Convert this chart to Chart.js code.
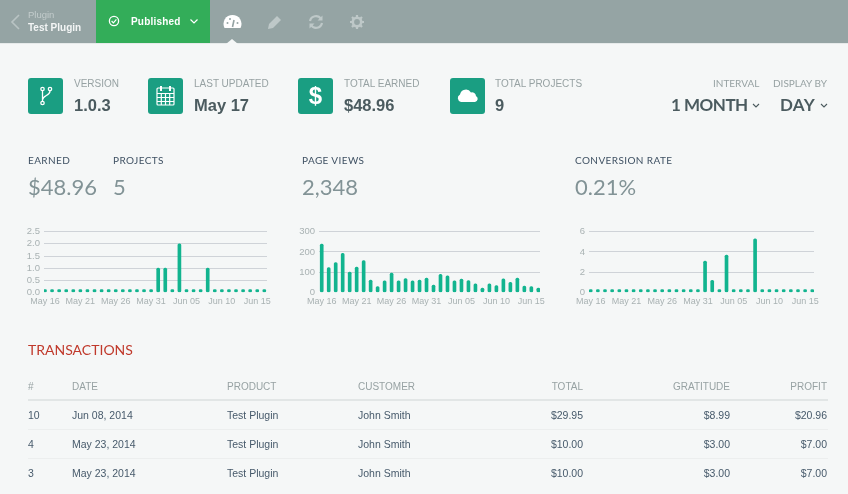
<!DOCTYPE html>
<html>
<head>
<meta charset="utf-8">
<title>Test Plugin</title>
<script src="https://cdn.jsdelivr.net/npm/chart.js@4"></script>
<style>
html, body { margin: 0; padding: 0; }
body { width: 848px; height: 494px; overflow: hidden; position: relative; background: #f5f7f7; font-family: "Liberation Sans", sans-serif; }
.abs { position: absolute; white-space: nowrap; line-height: 1; will-change: transform; }
.topbar { position: absolute; left: 0; top: 0; width: 848px; height: 44px; background: #95a4a4; border-bottom: 1px solid #e6eaea; box-sizing: border-box; }
.published { position: absolute; left: 96px; top: 0; width: 114px; height: 43px; background: #33ad59; }
.notch { position: absolute; left: 226px; top: 39px; width: 0; height: 0; border-left: 6px solid transparent; border-right: 6px solid transparent; border-bottom: 5px solid #f5f7f7; }
.tile { position: absolute; top: 78px; width: 35px; height: 36px; background: #1a9e82; border-radius: 3px; }
.tile svg { display: block; }
.lbl { font-size: 10px; color: #97a2a3; }
.val { font-size: 16.5px; font-weight: bold; color: #4b5b5f; }
.big { font-family: Lato, sans-serif; font-weight: bold; font-size: 17px; color: #4b5b5f; }
.head { font-family: Lato, sans-serif; font-size: 10px; letter-spacing: .4px; color: #3f5163; }
.num { font-family: Lato, sans-serif; font-weight: 400; font-size: 22px; color: #829396; }
canvas { position: absolute; }
table { position: absolute; left: 28px; top: 375px; width: 800px; border-collapse: collapse; table-layout: fixed; font-size: 10.5px; color: #475a6b; will-change: transform; }
th { font-weight: normal; font-size: 10px; color: #97a2a3; height: 23px; padding: 0 0 1px; text-align: left; border-bottom: 2px solid #e2e6e6; }
td { height: 28px; padding: 0; border-bottom: 1px solid #eceeee; }
tr:last-child td { border-bottom: 0; }
.r { text-align: right; }
th:last-child, td:last-child { padding-right: 1px; }
</style>
</head>
<body>
<div class="topbar"></div>
<div class="abs" style="left:28px;top:10px;font-size:9.5px;color:#c3cccc">Plugin</div>
<div class="abs" style="left:28px;top:23px;font-size:10px;font-weight:bold;color:#f3f5f5">Test Plugin</div>
<svg class="abs" style="left:9px;top:13px" width="12" height="18"><path d="M10 2 L3 9 L10 16" fill="none" stroke="#b9c4c4" stroke-width="1.6"/></svg>
<div class="published"></div>
<svg class="abs" style="left:108px;top:15px" width="12" height="12"><circle cx="6" cy="6" r="4.6" fill="none" stroke="#fff" stroke-width="1.3"/><path d="M3.6 6 L5.4 7.8 L8.4 4.4" fill="none" stroke="#fff" stroke-width="1.2"/></svg>
<div class="abs" style="left:131px;top:17px;font-size:10px;font-weight:bold;letter-spacing:.2px;color:#fff">Published</div>
<svg class="abs" style="left:189px;top:18px" width="10" height="7"><path d="M1.5 1.5 L5 5 L8.5 1.5" fill="none" stroke="#fff" stroke-width="1.2"/></svg>
<svg class="abs" style="left:223px;top:14px" width="19" height="16"><path d="M1.5 14 A9 9 0 1 1 17.5 14 Z" fill="#fff"/><path d="M9.5 13 L11 6" stroke="#95a4a4" stroke-width="1.6"/><circle cx="4.5" cy="9" r="1" fill="#95a4a4"/><circle cx="7" cy="5" r="1" fill="#95a4a4"/><circle cx="14.5" cy="9" r="1" fill="#95a4a4"/></svg>
<svg class="abs" style="left:267px;top:15px" width="15" height="15"><path d="M1 14 L2 9 L10 1 L14 5 L6 13 Z" fill="#bec8c8"/></svg>
<svg class="abs" style="left:308px;top:14px" width="16" height="16"><path d="M2 7 A6 6 0 0 1 13 5 M14 9 A6 6 0 0 1 3 11" fill="none" stroke="#bec8c8" stroke-width="2.2"/><path d="M14.5 1.5 V6.5 H9.5 Z M1.5 14.5 V9.5 H6.5 Z" fill="#bec8c8"/></svg>
<svg class="abs" style="left:350px;top:15px" width="14" height="14"><circle cx="7" cy="7" r="4.2" fill="none" stroke="#bec8c8" stroke-width="2.6"/><path d="M7 0 V14 M0 7 H14 M2 2 L12 12 M12 2 L2 12" stroke="#bec8c8" stroke-width="2.2" stroke-dasharray="2.4 9.2 2.4 0"/></svg>
<div class="notch"></div>

<div class="tile" style="left:28px"><svg width="35" height="36"><g fill="none" stroke="#fff" stroke-width="1.3"><circle cx="14.5" cy="11" r="1.7"/><circle cx="22" cy="11" r="1.7"/><circle cx="14.5" cy="25" r="1.7"/><path d="M14.5 13 V23 M22 13 C22 18 15 17 14.5 22"/></g></svg></div>
<div class="abs lbl" style="left:74px;top:79px">VERSION</div>
<div class="abs val" style="left:74px;top:97px">1.0.3</div>

<div class="tile" style="left:148px"><svg width="35" height="36"><g fill="none" stroke="#fff" stroke-width="1.2"><rect x="9" y="10" width="17" height="17" rx="1"/><path d="M9 15.5 H26 M9 19.5 H26 M9 23.5 H26 M13.3 15 V27 M17.5 15 V27 M21.7 15 V27"/></g><rect x="12" y="8" width="2" height="5" fill="#fff"/><rect x="21" y="8" width="2" height="5" fill="#fff"/></svg></div>
<div class="abs lbl" style="left:194px;top:79px">LAST UPDATED</div>
<div class="abs val" style="left:194px;top:97px">May 17</div>

<div class="tile" style="left:298px"><div class="abs" style="left:0;width:35px;text-align:center;top:6px;font-size:24px;font-weight:bold;color:#fff">$</div></div>
<div class="abs lbl" style="left:344px;top:79px">TOTAL EARNED</div>
<div class="abs val" style="left:344px;top:97px">$48.96</div>

<div class="tile" style="left:450px"><svg width="35" height="36"><path d="M11 24 A4 4 0 0 1 10 16.5 A6 6 0 0 1 21 14.5 A4 4 0 0 1 26 18 A3.2 3.2 0 0 1 25 24 Z" fill="#fff"/></svg></div>
<div class="abs lbl" style="left:495px;top:79px">TOTAL PROJECTS</div>
<div class="abs val" style="left:495px;top:97px">9</div>

<div class="abs lbl" style="right:89px;top:78px;font-family:Lato,sans-serif">INTERVAL</div>
<div class="abs lbl" style="right:21px;top:78px;font-family:Lato,sans-serif">DISPLAY BY</div>
<div class="abs big" style="left:671px;top:96px;letter-spacing:-.5px">1 MONTH</div>
<svg class="abs" style="left:752px;top:103px" width="8" height="5"><path d="M1 1 L4 4 L7 1" fill="none" stroke="#4b5b5f" stroke-width="1.1"/></svg>
<div class="abs big" style="left:780px;top:96px;letter-spacing:.3px">DAY</div>
<svg class="abs" style="left:820px;top:103px" width="8" height="5"><path d="M1 1 L4 4 L7 1" fill="none" stroke="#4b5b5f" stroke-width="1.1"/></svg>

<div class="abs head" style="left:28px;top:155px">EARNED</div>
<div class="abs head" style="left:113px;top:155px">PROJECTS</div>
<div class="abs num" style="left:28px;top:176px">$48.96</div>
<div class="abs num" style="left:113px;top:176px">5</div>
<div class="abs head" style="left:302px;top:155px">PAGE VIEWS</div>
<div class="abs num" style="left:302px;top:176px">2,348</div>
<div class="abs head" style="left:575px;top:155px">CONVERSION RATE</div>
<div class="abs num" style="left:575px;top:176px">0.21%</div>

<canvas id="earnedChart"></canvas>
<canvas id="viewsChart"></canvas>
<canvas id="rateChart"></canvas>

<div class="abs" style="left:28px;top:343px;font-family:Lato,sans-serif;font-size:14px;color:#c0392b">TRANSACTIONS</div>
<table>
<colgroup><col style="width:44px"><col style="width:155px"><col style="width:131px"><col style="width:225px"><col style="width:147px"><col style="width:98px"></colgroup>
<tr><th>#</th><th>DATE</th><th>PRODUCT</th><th class="r">TOTAL</th><th class="r">GRATITUDE</th><th class="r">PROFIT</th></tr>
<tr><td>10</td><td>Jun 08, 2014</td><td>Test Plugin</td><td class="r">$29.95</td><td class="r">$8.99</td><td class="r">$20.96</td></tr>
<tr><td>4</td><td>May 23, 2014</td><td>Test Plugin</td><td class="r">$10.00</td><td class="r">$3.00</td><td class="r">$7.00</td></tr>
<tr><td>3</td><td>May 23, 2014</td><td>Test Plugin</td><td class="r">$10.00</td><td class="r">$3.00</td><td class="r">$7.00</td></tr>
</table>
<div class="abs lbl" style="left:358px;top:382px">CUSTOMER</div>
<div class="abs" style="left:358px;top:410px;font-size:10.5px;color:#475a6b">John Smith</div>
<div class="abs" style="left:358px;top:439px;font-size:10.5px;color:#475a6b">John Smith</div>
<div class="abs" style="left:358px;top:468px;font-size:10.5px;color:#475a6b">John Smith</div>

<script>
// Chart data, one value per day
const days = ['May 16','May 17','May 18','May 19','May 20','May 21','May 22','May 23','May 24','May 25','May 26','May 27','May 28','May 29','May 30','May 31','Jun 01','Jun 02','Jun 03','Jun 04','Jun 05','Jun 06','Jun 07','Jun 08','Jun 09','Jun 10','Jun 11','Jun 12','Jun 13','Jun 14','Jun 15','Jun 16'];
const earned = [0,0,0,0,0,0,0,0,0,0,0,0,0,0,0,0,1,1,0,2,0,0,0,1,0,0,0,0,0,0,0,0];
const pageViews = [239,123,148,193,101,125,157,61,29,58,96,58,69,58,61,71,37,90,82,58,66,59,43,22,43,34,67,50,71,32,29,22];
const conversion = [0,0,0,0,0,0,0,0,0,0,0,0,0,0,0,0,3.1,1.2,0,3.7,0,0,0,5.3,0,0,0,0,0,0,0,0];
const earnedTicks = [0, 0.5, 1, 1.5, 2, 2.5];
const viewsTicks = [0, 100, 200, 300];
const rateTicks = [0, 2, 4, 6];

const tickColor = '#a9b2b3';
const gridColor = '#cfd3d8';
const barColor = '#12b48f';

// box = canvas rect, plot = where the axes should sit on the page
function drawBars(id, values, yTicks, digits, plot) {
    const canvas = document.getElementById(id);
    const box = { left: plot.left - 24, top: plot.top - 8, width: plot.right - plot.left + 38, height: 90 };
    canvas.style.left = box.left + 'px';
    canvas.style.top = box.top + 'px';
    canvas.style.width = box.width + 'px';
    canvas.style.height = box.height + 'px';
    canvas.width = box.width;
    canvas.height = box.height;

    new Chart(canvas.getContext('2d'), {
        type: 'bar',
        data: {
            datasets: [{
                data: values.map((v, i) => ({ x: i, y: v })),
                backgroundColor: barColor,
                barThickness: 3,
                minBarLength: 3,
                borderRadius: 1.5,
                borderSkipped: false
            }]
        },
        options: {
            responsive: false,
            animation: false,
            layout: { autoPadding: false, padding: { left: 0, top: 8, right: box.left + box.width - plot.right, bottom: 0 } },
            plugins: { legend: { display: false }, tooltip: { enabled: false } },
            scales: {
                x: {
                    type: 'linear',
                    offset: false,
                    min: plot.min,
                    max: plot.max,
                    grid: { display: false, drawTicks: false },
                    border: { display: false },
                    afterBuildTicks: axis => { axis.ticks = days.map((d, i) => ({ value: i })).filter(t => t.value % 5 === 0); },
                    afterFit: axis => { axis.height = box.top + box.height - plot.bottom; },
                    ticks: {
                        autoSkip: false,
                        maxRotation: 0,
                        padding: 4,
                        color: tickColor,
                        font: { family: 'Liberation Sans', size: 9 },
                        callback: value => days[value]
                    }
                },
                y: {
                    min: yTicks[0],
                    max: yTicks[yTicks.length - 1],
                    border: { display: false },
                    grid: { color: ctx => ctx.tick.value === 0 ? 'transparent' : gridColor, drawTicks: false, lineWidth: 1 },
                    afterBuildTicks: axis => { axis.ticks = yTicks.map(v => ({ value: v })); },
                    afterFit: axis => { axis.width = 24; },
                    ticks: {
                        autoSkip: false,
                        padding: 4,
                        color: tickColor,
                        font: { family: 'Liberation Sans', size: 9.5 },
                        callback: value => value.toFixed(digits)
                    }
                }
            }
        }
    });
}

drawBars('earnedChart', earned, earnedTicks, 1, { left: 44, right: 267, top: 230, bottom: 292.5, min: -0.14, max: 31.38 });
drawBars('viewsChart', pageViews, viewsTicks, 0, { left: 319, right: 540, top: 230, bottom: 292.5, min: -0.39, max: 31.24 });
drawBars('rateChart', conversion, rateTicks, 0, { left: 589, right: 814, top: 230, bottom: 292.5, min: -0.24, max: 31.24 });
</script>
</body>
</html>
